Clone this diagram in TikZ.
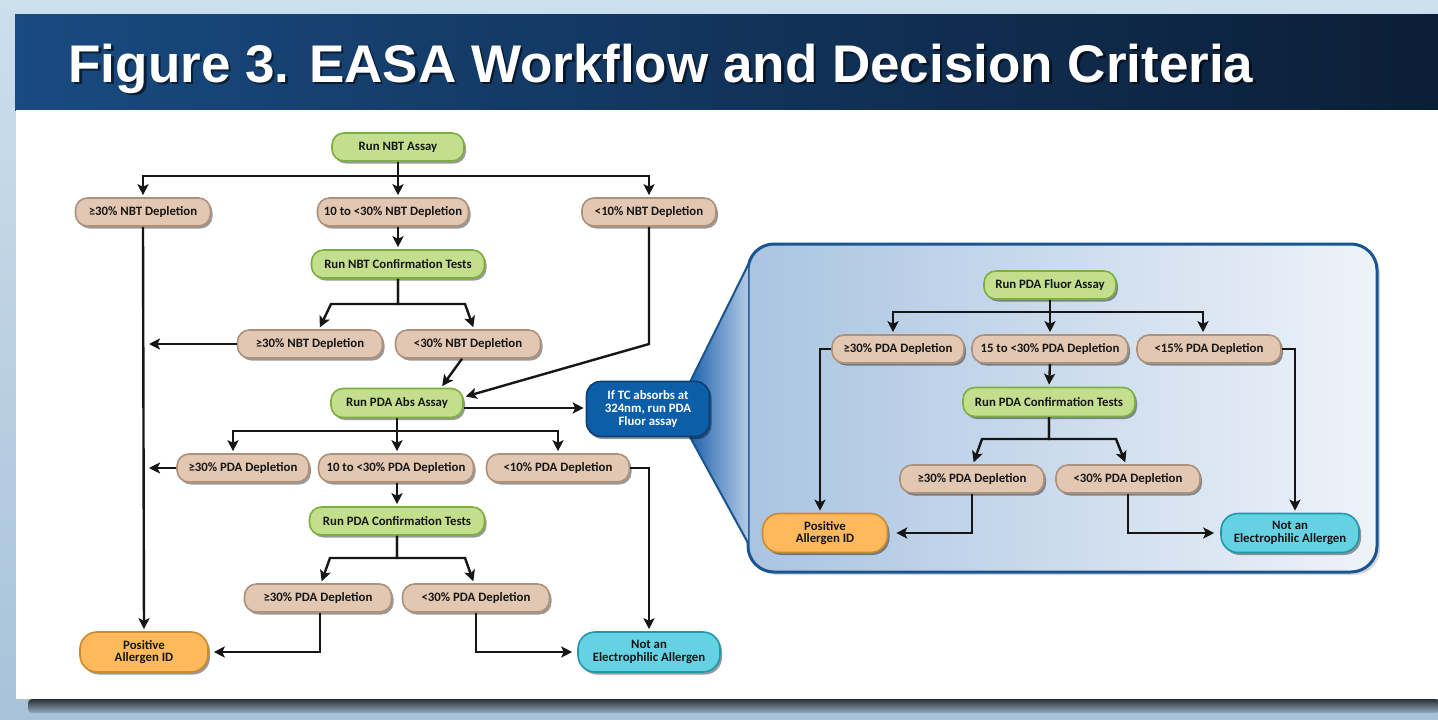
\documentclass[tikz,border=0pt]{standalone}
\usepackage{fontspec}
\setmainfont{Carlito}
\newfontfamily\titlefont{Liberation Sans}
\usetikzlibrary{arrows.meta,shadows,calc}

\definecolor{bgtop}{HTML}{CBDFED}
\definecolor{bgbot}{HTML}{A9C2D9}
\definecolor{barl}{HTML}{194A80}
\definecolor{barr}{HTML}{0B1E37}
\definecolor{bandtop}{HTML}{2C3034}
\definecolor{bandbot}{HTML}{93ABC2}
\definecolor{gfill}{HTML}{C3DF8E}
\definecolor{gline}{HTML}{7DAF3E}
\definecolor{tfill}{HTML}{E2C8B2}
\definecolor{tline}{HTML}{AE917B}
\definecolor{ofill}{HTML}{FDB95C}
\definecolor{oline}{HTML}{CC8A2A}
\definecolor{cfill}{HTML}{64D2E2}
\definecolor{cline}{HTML}{1F97AD}
\definecolor{bfill}{HTML}{0D5EA8}
\definecolor{bline}{HTML}{0A3F75}
\definecolor{frame}{HTML}{1A5590}
\definecolor{panell}{HTML}{AAC4E1}
\definecolor{panelm}{HTML}{D5E2EF}
\definecolor{panelr}{HTML}{EEF3F9}
\definecolor{funl}{HTML}{1F62AB}
\definecolor{funr}{HTML}{B3CAE5}
\definecolor{ink}{HTML}{161616}

\newcommand\boxfont{\fontsize{12.8}{12.8}\selectfont\bfseries}

\tikzset{
  pill/.style={rounded corners=12pt, minimum height=28pt, inner sep=0pt,
    line width=1.6pt, font=\boxfont, text=ink, align=center,
    drop shadow={shadow xshift=2pt, shadow yshift=-2.5pt, fill=black, opacity=0.4}},
  greenbox/.style={pill, fill=gfill, draw=gline},
  tanbox/.style={pill, fill=tfill, draw=tline},
  posbox/.style={pill, fill=ofill, draw=oline, minimum height=40pt, rounded corners=17pt},
  negbox/.style={pill, fill=cfill, draw=cline, minimum height=40pt, rounded corners=17pt},
  bluebox/.style={pill, fill=bfill, draw=bline, text=white, minimum height=55pt,
    rounded corners=14pt},
  ln/.style={line width=2.4pt, draw=ink},
  arr/.style={ln, -{Stealth[length=11pt, width=11pt, inset=2.5pt]}, shorten >=2pt},
}

\begin{document}
\begin{tikzpicture}[x=1pt, y=-1pt]
\useasboundingbox (0,0) rectangle (1438,720);

% page background, title bar, white sheet and its lower shadow
\fill[top color=bgtop, bottom color=bgbot] (0,0) rectangle (1438,720);
\shade[left color=barl, right color=barr] (15,14) rectangle (1438,110);
\fill[white] (16,110) rectangle (1438,699);
\shade[top color=bandtop, bottom color=bandbot, rounded corners=4pt] (28,699) rectangle (1440,713);

% title with its shadow
\node[anchor=base west, font=\titlefont\bfseries\fontsize{53}{60}\selectfont,
  text=black, opacity=0.55] at (67.5,84.5) {Figure 3. EASA Workflow and Decision Criteria};
\node[anchor=base west, font=\titlefont\bfseries\fontsize{53}{60}\selectfont,
  text=white] at (65,82) {Figure 3. EASA Workflow and Decision Criteria};

% ---------- inset panel for the fluorescence assay ----------
\path[rounded corners=26pt, left color=panell, middle color=panelm, right color=panelr,
  drop shadow={shadow xshift=3pt, shadow yshift=-3pt, opacity=0.3}]
  (748,244) rectangle (1377,572);
\draw[frame, line width=3pt, rounded corners=26pt] (748,244) rectangle (1377,572);
\shade[left color=funl, right color=funr] (690,382) -- (748,265) -- (748,543) -- (690,437) -- cycle;
\draw[frame, line width=2pt] (690,382) -- (748,265);
\draw[frame, line width=2pt] (690,437) -- (748,543);

% ---------- main workflow nodes ----------
\node[greenbox, minimum width=132pt] (nbt) at (398,147) {Run NBT Assay};
\node[tanbox, minimum width=135pt] (n1) at (143,212) {≥30\% NBT Depletion};
\node[tanbox, minimum width=151pt] (n2) at (393,212) {10 to <30\% NBT Depletion};
\node[tanbox, minimum width=134pt] (n3) at (649,212) {<10\% NBT Depletion};
\node[greenbox, minimum width=173pt] (nconf) at (398,264) {Run NBT Confirmation Tests};
\node[tanbox, minimum width=145pt] (n4) at (310,344) {≥30\% NBT Depletion};
\node[tanbox, minimum width=145pt] (n5) at (468,344) {<30\% NBT Depletion};
\node[greenbox, minimum width=132pt, minimum height=29pt] (pda) at (397,403) {Run PDA Abs Assay};
\node[bluebox, minimum width=123pt] (tc) at (648,409) {If TC absorbs at\\324nm, run PDA\\Fluor assay};
\node[tanbox, minimum width=132pt] (p1) at (243,468) {≥30\% PDA Depletion};
\node[tanbox, minimum width=155pt] (p2) at (396,468) {10 to <30\% PDA Depletion};
\node[tanbox, minimum width=143pt] (p3) at (558,468) {<10\% PDA Depletion};
\node[greenbox, minimum width=175pt] (pconf) at (397,521) {Run PDA Confirmation Tests};
\node[tanbox, minimum width=147pt] (p4) at (318,598) {≥30\% PDA Depletion};
\node[tanbox, minimum width=147pt] (p5) at (476,598) {<30\% PDA Depletion};
\node[posbox, minimum width=128pt] (pos) at (144,652) {Positive\\Allergen ID};
\node[negbox, minimum width=142pt] (neg) at (649,652) {Not an\\Electrophilic Allergen};

% ---------- inset nodes ----------
\node[greenbox, minimum width=132pt] (f0) at (1050,285) {Run PDA Fluor Assay};
\node[tanbox, minimum width=132pt] (f1) at (898,349) {≥30\% PDA Depletion};
\node[tanbox, minimum width=156pt] (f2) at (1050,349) {15 to <30\% PDA Depletion};
\node[tanbox, minimum width=144pt] (f3) at (1209,349) {<15\% PDA Depletion};
\node[greenbox, minimum width=172pt, minimum height=29pt] (fconf) at (1049,402) {Run PDA Confirmation Tests};
\node[tanbox, minimum width=144pt] (f4) at (972,479) {≥30\% PDA Depletion};
\node[tanbox, minimum width=144pt] (f5) at (1128,479) {<30\% PDA Depletion};
\node[posbox, minimum width=125pt, minimum height=39pt] (fpos) at (825,533) {Positive\\Allergen ID};
\node[negbox, minimum width=138pt, minimum height=39pt] (fneg) at (1290,533) {Not an\\Electrophilic Allergen};

% ---------- main workflow connectors ----------
\coordinate (busA) at (0,176);
\coordinate (busB) at (0,304);
\coordinate (busC) at (0,431);
\coordinate (busD) at (0,558);

\draw[arr] (nbt.south) |- (n1.north |- busA) -- (n1.north);
\draw[arr] (nbt.south) -- (nbt.south |- n2.north);
\draw[arr] (nbt.south) |- (n3.north |- busA) -- (n3.north);
\draw[arr] (n1.south) -- (pos.north);
\draw[arr] (nconf.north |- n2.south) -- (nconf.north);
\draw[arr] (nconf.south) |- ([xshift=21pt]n4.north |- busB) -- ([xshift=9pt]n4.north);
\draw[arr] (nconf.south) |- ([xshift=-3pt]n5.north |- busB) -- ([xshift=6pt]n5.north);
\draw[arr, shorten >=6pt] (n4.west) -- (n4.west -| n1.south);
\draw[arr] ([xshift=-6pt]n5.south) -- ([xshift=44pt]pda.north);
\draw[arr] (n3.south) -- (n3.south |- n5.east) -- ([yshift=6pt]pda.east);
\draw[arr] ([yshift=-5pt]pda.east) -- ([yshift=-5pt]pda.east -| tc.west);
\draw[arr] (pda.south) |- ([xshift=-10pt]p1.north |- busC) -- ([xshift=-10pt]p1.north);
\draw[arr] (pda.south) -- (pda.south |- p2.north);
\draw[arr] (pda.south) |- (p3.north |- busC) -- (p3.north);
\draw[arr, shorten >=6pt] (p1.west) -- (p1.west -| n1.south);
\draw[arr] (p3.east) -| (neg.north);
\draw[arr] (pconf.north |- p2.south) -- (pconf.north);
\draw[arr] (pconf.south) |- ([xshift=12pt]p4.north |- busD) -- ([xshift=3pt]p4.north);
\draw[arr] (pconf.south) |- ([xshift=-11pt]p5.north |- busD) -- ([xshift=-2pt]p5.north);
\draw[arr, shorten >=5pt] ([xshift=2pt]p4.south) |- (pos.east);
\draw[arr, shorten >=5pt] (p5.south) |- (neg.west);

% ---------- inset connectors ----------
\coordinate (busE) at (0,312);
\coordinate (busF) at (0,439);
\draw[arr] (f0.south) |- ([xshift=-5pt]f1.north |- busE) -- ([xshift=-5pt]f1.north);
\draw[arr] (f0.south) -- (f2.north);
\draw[arr] (f0.south) |- ([xshift=-6pt]f3.north |- busE) -- ([xshift=-6pt]f3.north);
\draw[arr] (f2.south) -- (fconf.north);
\draw[arr] (f1.west) -| ([xshift=-5pt]fpos.north);
\draw[arr] (f3.east) -| ([xshift=5pt]fneg.north);
\draw[arr] (fconf.south) |- ([xshift=10pt]f4.north |- busF) -- ([xshift=1pt]f4.north);
\draw[arr] (fconf.south) |- ([xshift=-12pt]f5.north |- busF) -- ([xshift=-2pt]f5.north);
\draw[arr, shorten >=8pt] (f4.south) |- (fpos.east);
\draw[arr, shorten >=6pt] (f5.south) |- (fneg.west);
\end{tikzpicture}
\end{document}
